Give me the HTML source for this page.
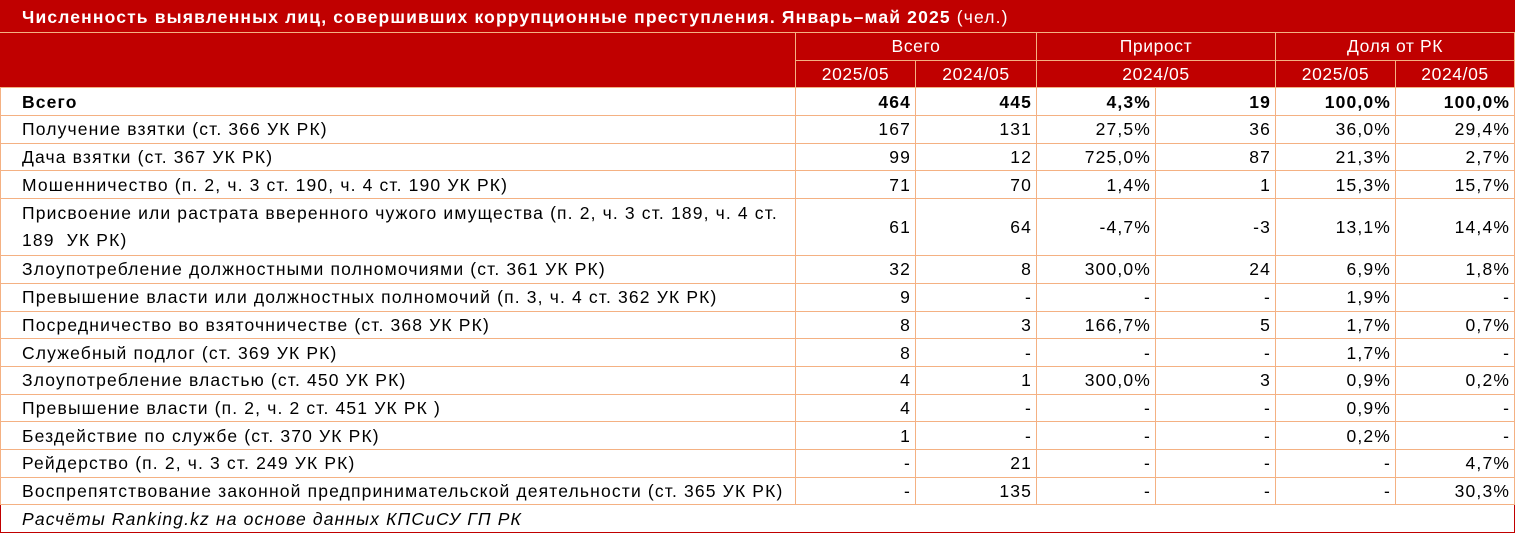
<!DOCTYPE html>
<html><head><meta charset="utf-8"><style>
html,body{margin:0;padding:0;background:#fff;}
body{width:1515px;height:533px;overflow:hidden;font-family:"Liberation Sans","DejaVu Sans",sans-serif;}
table{border-collapse:collapse;width:1514px;table-layout:fixed;font-size:17.5px;letter-spacing:1.15px;color:#000;}
td{border:1px solid #f4b183;padding:0 4px;height:26.7px;line-height:20px;white-space:nowrap;text-align:right;overflow:hidden;}
td.n{letter-spacing:0.4px;}
td.l{text-align:left;padding-left:21px;}
tr.h td{background:#c00000;color:#fff;text-align:center;border-color:#f4b183;letter-spacing:0.6px;}
tr.t td{background:#c00000;color:#fff;text-align:left;padding-left:21px;height:31px;border:1px solid #c00000;border-bottom:1px solid #f4b183;}
tr.b td{font-weight:bold;}
td.f{font-style:italic;text-align:left;padding-left:21px;border:1px solid #c00000;}
.wrap{white-space:normal;line-height:27px;}
</style></head><body>
<table>
<colgroup><col style="width:795px"><col style="width:120px"><col style="width:121px"><col style="width:119px"><col style="width:120px"><col style="width:120px"><col style="width:119px"></colgroup>
<tr class="t"><td colspan="7"><b>Численность выявленных лиц, совершивших коррупционные преступления. Январь–май 2025</b> (чел.)</td></tr>
<tr class="h"><td rowspan="2" style="border-left-color:#c00000"></td><td colspan="2">Всего</td><td colspan="2">Прирост</td><td colspan="2">Доля от РК</td></tr>
<tr class="h"><td>2025/05</td><td>2024/05</td><td colspan="2">2024/05</td><td>2025/05</td><td>2024/05</td></tr>
<tr class="b"><td class="l">Всего</td><td>464</td><td>445</td><td>4,3%</td><td>19</td><td>100,0%</td><td>100,0%</td></tr>
<tr><td class="l">Получение взятки (ст. 366 УК РК)</td><td>167</td><td>131</td><td>27,5%</td><td>36</td><td>36,0%</td><td>29,4%</td></tr>
<tr><td class="l">Дача взятки (ст. 367 УК РК)</td><td>99</td><td>12</td><td>725,0%</td><td>87</td><td>21,3%</td><td>2,7%</td></tr>
<tr><td class="l">Мошенничество (п. 2, ч. 3 ст. 190, ч. 4 ст. 190 УК РК)</td><td>71</td><td>70</td><td>1,4%</td><td>1</td><td>15,3%</td><td>15,7%</td></tr>
<tr><td class="l wrap" style="height:56px">Присвоение или растрата вверенного чужого имущества (п. 2, ч. 3 ст. 189, ч. 4 ст.<br>189&nbsp; УК РК)</td><td>61</td><td>64</td><td>-4,7%</td><td>-3</td><td>13,1%</td><td>14,4%</td></tr>
<tr><td class="l">Злоупотребление должностными полномочиями (ст. 361 УК РК)</td><td>32</td><td>8</td><td>300,0%</td><td>24</td><td>6,9%</td><td>1,8%</td></tr>
<tr><td class="l">Превышение власти или должностных полномочий (п. 3, ч. 4 ст. 362 УК РК)</td><td>9</td><td>-</td><td>-</td><td>-</td><td>1,9%</td><td>-</td></tr>
<tr><td class="l">Посредничество во взяточничестве (ст. 368 УК РК)</td><td>8</td><td>3</td><td>166,7%</td><td>5</td><td>1,7%</td><td>0,7%</td></tr>
<tr><td class="l">Служебный подлог (ст. 369 УК РК)</td><td>8</td><td>-</td><td>-</td><td>-</td><td>1,7%</td><td>-</td></tr>
<tr><td class="l">Злоупотребление властью (ст. 450 УК РК)</td><td>4</td><td>1</td><td>300,0%</td><td>3</td><td>0,9%</td><td>0,2%</td></tr>
<tr><td class="l">Превышение власти (п. 2, ч. 2 ст. 451 УК РК )</td><td>4</td><td>-</td><td>-</td><td>-</td><td>0,9%</td><td>-</td></tr>
<tr><td class="l">Бездействие по службе (ст. 370 УК РК)</td><td>1</td><td>-</td><td>-</td><td>-</td><td>0,2%</td><td>-</td></tr>
<tr><td class="l">Рейдерство (п. 2, ч. 3 ст. 249 УК РК)</td><td>-</td><td>21</td><td>-</td><td>-</td><td>-</td><td>4,7%</td></tr>
<tr><td class="l">Воспрепятствование законной предпринимательской деятельности (ст. 365 УК РК)</td><td>-</td><td>135</td><td>-</td><td>-</td><td>-</td><td>30,3%</td></tr>
<tr><td class="f" colspan="7">Расчёты Ranking.kz на основе данных КПСиСУ ГП РК</td></tr>
</table>
</body></html>
